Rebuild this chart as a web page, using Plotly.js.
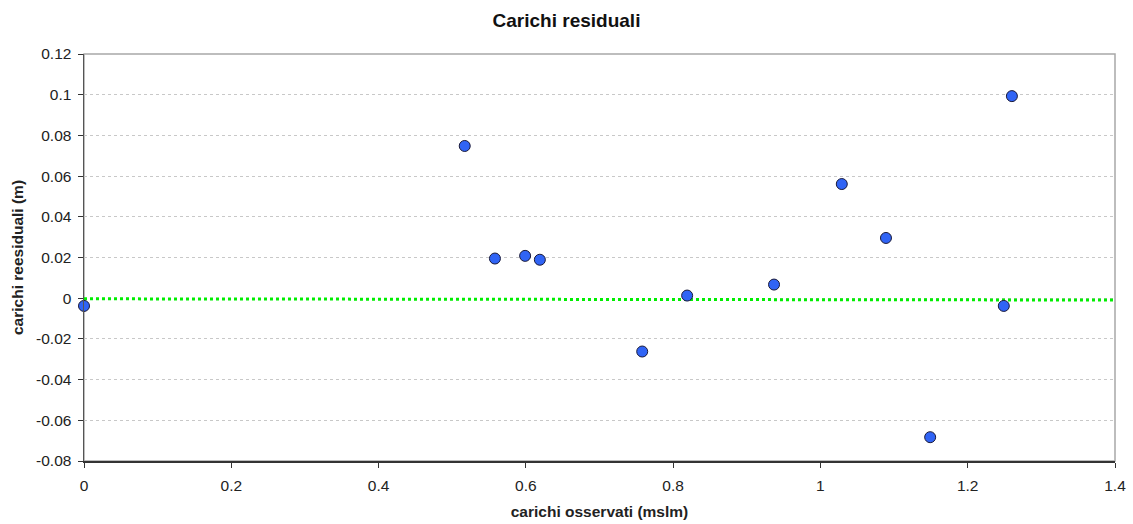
<!DOCTYPE html>
<html><head><meta charset="utf-8">
<script src="https://cdn.plot.ly/plotly-3.0.1.min.js"></script>
<style>html,body{margin:0;padding:0;background:#fff}#chart{width:1133px;height:524px}</style>
</head><body><div id="chart"></div>
<script>
const observed = [0, 0.517, 0.558, 0.599, 0.619, 0.758, 0.819, 0.937, 1.029, 1.089, 1.149, 1.249, 1.260];
const residuals = [-0.0038, 0.0748, 0.0195, 0.0208, 0.0189, -0.0262, 0.0013, 0.0067, 0.0561, 0.0296, -0.0683, -0.0038, 0.0993];
const trendX = [0, 1.4];
const trendY = [-0.0003, -0.0009];
const xTicks = [0, 0.2, 0.4, 0.6, 0.8, 1, 1.2, 1.4];
const yTicks = [-0.08, -0.06, -0.04, -0.02, 0, 0.02, 0.04, 0.06, 0.08, 0.1, 0.12];
const yTickText = ['-0.08','-0.06','-0.04','-0.02','0','0.02','0.04','0.06','0.08','0.1','0.12'];

const font = 'Liberation Sans, Arial, sans-serif';
const data = [
  {x: trendX, y: trendY, mode: 'lines', type: 'scatter',
   line: {color: '#00ee00', width: 3, dash: 'dot'}, hoverinfo: 'skip', showlegend: false},
  {x: observed, y: residuals, mode: 'markers', type: 'scatter',
   marker: {color: '#3064f5', size: 11, line: {color: '#1a1a3a', width: 1}}, showlegend: false, cliponaxis: false}
];
const layout = {
  width: 1133, height: 524,
  margin: {l: 84, r: 18, t: 54, b: 63},
  paper_bgcolor: '#fff', plot_bgcolor: '#fff',
  font: {family: font, size: 15, color: '#222'},
  title: {text: '<b>Carichi residuali</b>', x: 0.5, xref: 'container', y: 0.962, yanchor: 'middle',
          font: {family: font, size: 19, color: '#111'}},
  xaxis: {range: [0, 1.4], tickvals: xTicks, ticktext: xTicks.map(String),
          showgrid: false, zeroline: false, showline: true, linecolor: '#333', linewidth: 1.5,
          ticks: 'outside', ticklen: 5, tickcolor: '#333', tickfont: {size: 15.5, color: '#222'},
          ticklabelstandoff: 5,
          title: {text: '<b>carichi osservati (mslm)</b>', font: {size: 15.5, color: '#222'}, standoff: 13}},
  yaxis: {range: [-0.08, 0.12], tickvals: yTicks, ticktext: yTickText,
          showgrid: true, gridcolor: '#c8c8c8', griddash: '3px,3px', gridwidth: 1,
          zeroline: false, showline: true, linecolor: '#555', linewidth: 1.5,
          ticks: 'outside', ticklen: 5, tickcolor: '#333', tickfont: {size: 15.5, color: '#222'},
          ticklabelstandoff: 3,
          title: {text: '<b>carichi reesiduali (m)</b>', font: {size: 15.5, color: '#222'}, standoff: 8}},
  shapes: [{type: 'rect', xref: 'paper', yref: 'paper', x0: 0, x1: 1, y0: 0, y1: 1,
            line: {color: '#a8a8a8', width: 1.5}, layer: 'below'}]
};
Plotly.newPlot('chart', data, layout, {displayModeBar: false, staticPlot: true});
</script></body></html>
